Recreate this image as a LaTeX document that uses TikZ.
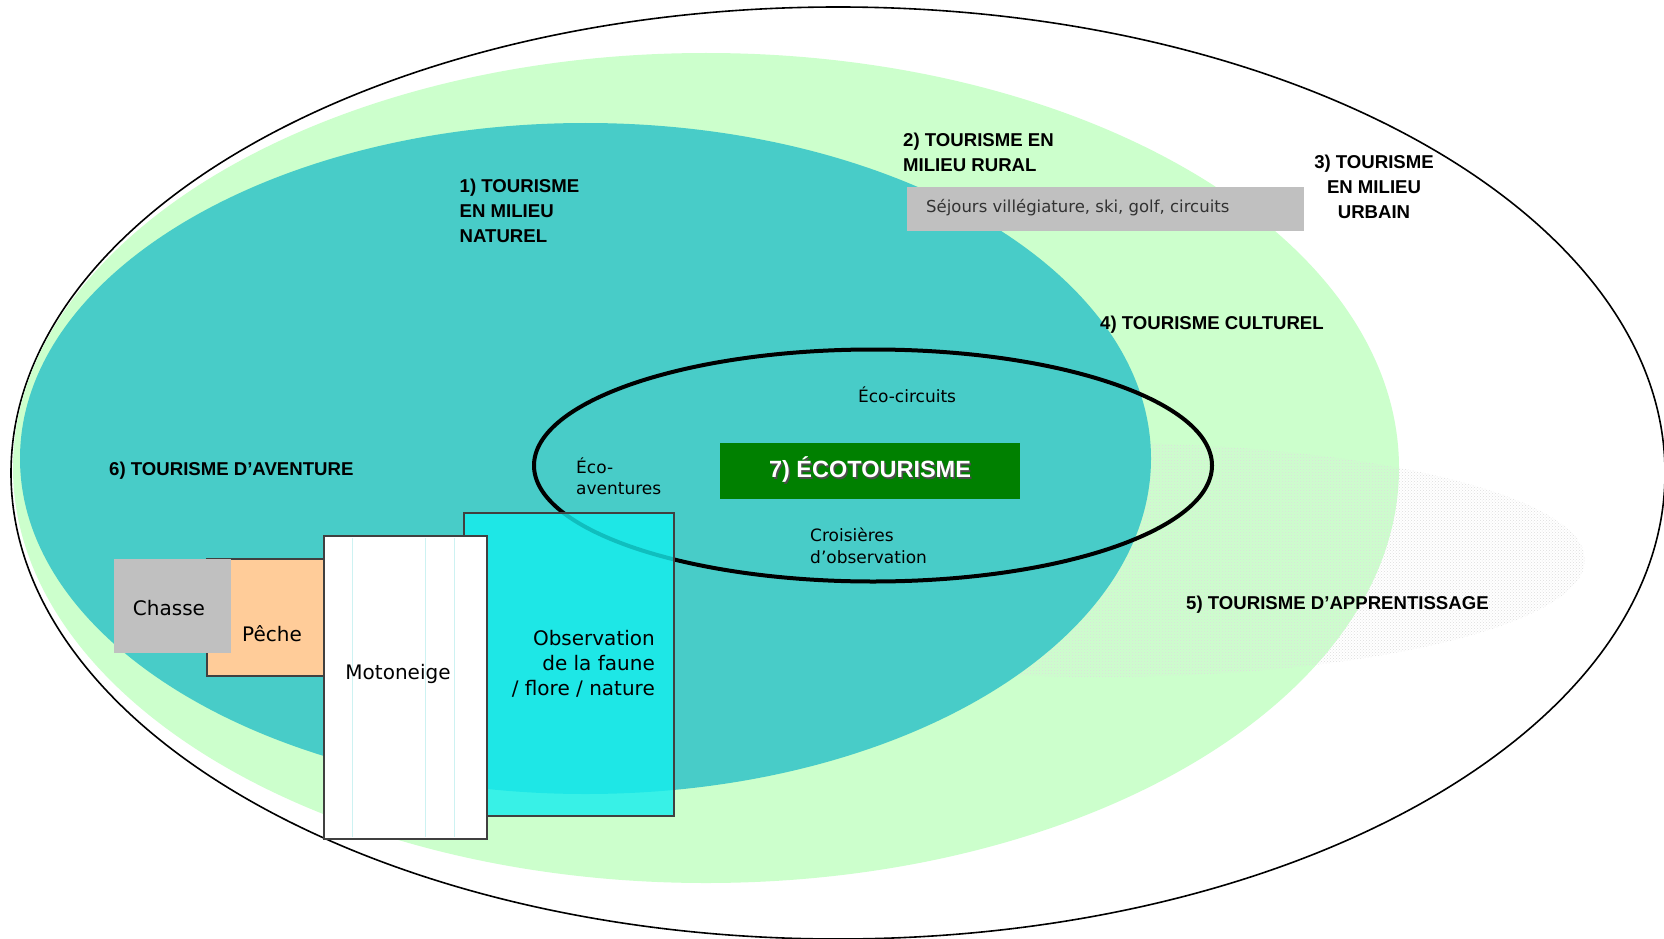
\documentclass[tikz,border=0pt]{standalone}
\usepackage{fontspec}
\setmainfont{Liberation Sans}
\newfontfamily\dvs{DejaVu Sans}
\usetikzlibrary{patterns}
\definecolor{lgreen}{RGB}{204,255,204}
\definecolor{tealA}{RGB}{72,204,200}
\definecolor{cyanbox}{RGB}{20,238,238}
\definecolor{ecogreen}{RGB}{0,128,0}
\definecolor{boxgray}{RGB}{192,192,192}
\definecolor{peach}{RGB}{255,204,153}
\definecolor{framegray}{RGB}{64,64,64}
\definecolor{faintcyan}{RGB}{205,242,242}
\definecolor{seltext}{RGB}{50,50,50}
\tikzset{
  heading/.style={inner sep=0pt, font=\fontsize{18.6}{25}\selectfont\bfseries, text=black},
  small/.style={inner sep=0pt, font=\dvs\fontsize{17}{21.5}\selectfont, text=black},
  boxlabel/.style={inner sep=0pt, font=\dvs\fontsize{20}{25}\selectfont, text=black},
  framed/.style={draw=framegray, line width=2pt},
}
\begin{document}
\begin{tikzpicture}[x=1pt,y=-1pt]
\useasboundingbox (0,0) rectangle (1664,939);
% outer ellipse (3)
\draw[fill=white, line width=1.6pt] (838,473) ellipse [x radius=827, y radius=466];
% rural (2) / cultural (4) ellipse
\fill[lgreen] (706,468) ellipse [x radius=693, y radius=415];
% learning (5) hatched ellipse
\fill[pattern=crosshatch dots, pattern color=black!13] (1100,560) ellipse [x radius=485, y radius=117];
% natural (1) ellipse
\fill[tealA] (585.5,458.5) ellipse [x radius=565.5, y radius=335.5];
% sejours box
\fill[boxgray] (907,187) rectangle (1304,231);
\node[anchor=west, inner sep=0pt, font=\dvs\fontsize{16.5}{20}\selectfont, text=seltext] (sejours) at (926,208) {Séjours villégiature, ski, golf, circuits};
% ecotourism ellipse
\draw[line width=4pt] (873,465.5) ellipse [x radius=339, y radius=116];
% boxes
\draw[framed, fill=peach] (207,559) rectangle (324,676);
\fill[boxgray] (114,559) rectangle (231,653);
\draw[framed, fill=cyanbox, fill opacity=0.8] (464,513) rectangle (674,816);
\draw[framed, fill=white] (324,536) rectangle (487,839);
\foreach \xx in {352,425,454} \draw[faintcyan, line width=0.8pt] (\xx,538) -- (\xx,837);
% green title box
\fill[ecogreen] (720,443) rectangle (1020,499);
\node[inner sep=0pt, font=\fontsize{23.5}{28}\selectfont\bfseries, text=black!70] (ecoshadow) at (871.5,471.5) {7) ÉCOTOURISME};
\node[inner sep=0pt, font=\fontsize{23.5}{28}\selectfont\bfseries, text=white] (eco) at (870,470) {7) ÉCOTOURISME};
% box labels
\node[boxlabel] (chasse) at (169,608) {Chasse};
\node[boxlabel] (peche) at (272,634) {Pêche};
\node[boxlabel] (moto) at (398,674) {Motoneige};
\node[boxlabel, anchor=east, align=right] (obs) at (655,664) {Observation\\de la faune\\/ flore / nature};
% small labels
\node[small] (ecocirc) at (907,395) {Éco-circuits};
\node[small, anchor=west, align=left] (ecoav) at (576,476) {Éco-\\aventures};
\node[small, anchor=west, align=left] (crois) at (810,546) {Croisières\\d’observation};
% headings
\node[heading, anchor=west, align=left] (t1) at (459.5,211) {1) TOURISME\\EN MILIEU\\NATUREL};
\node[heading, anchor=west, align=left] (t2) at (903,152) {2) TOURISME EN\\MILIEU RURAL};
\node[heading, align=center] (t3) at (1374,187) {3) TOURISME\\EN MILIEU\\URBAIN};
\node[heading, anchor=west] (t4) at (1100,325) {4) TOURISME CULTUREL};
\node[heading, anchor=west] (t5) at (1186,605) {5) TOURISME D’APPRENTISSAGE};
\node[heading, anchor=west] (t6) at (109,471) {6) TOURISME D’AVENTURE};
\end{tikzpicture}
\end{document}
